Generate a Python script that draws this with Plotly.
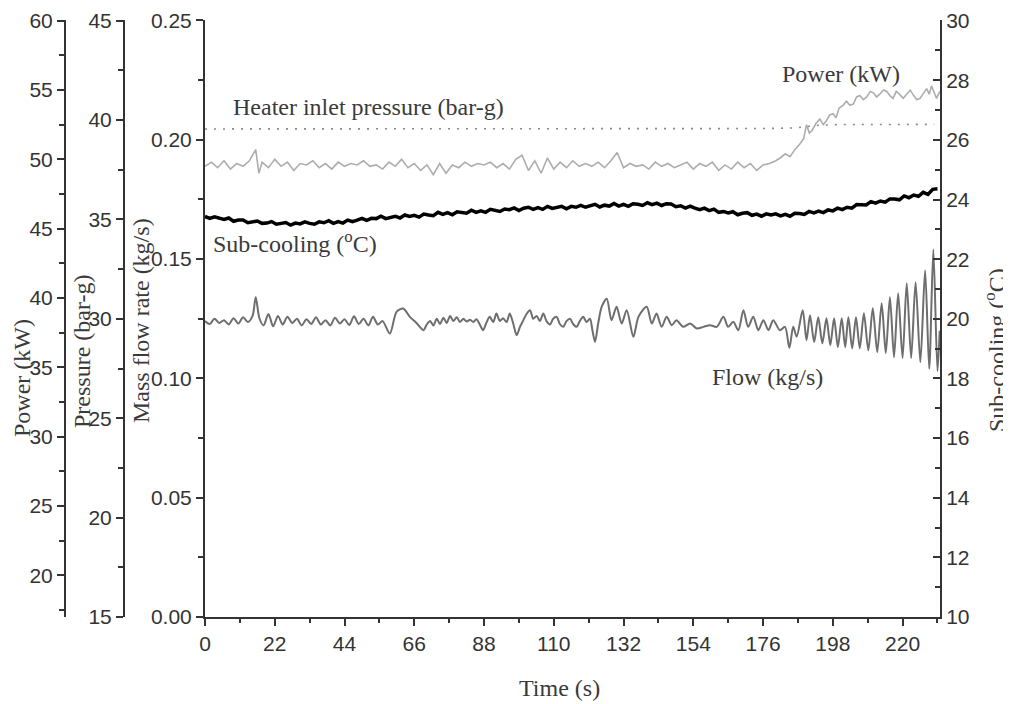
import plotly.graph_objects as go

# ---------------- data ----------------
flow_time = [0, 1.5, 3, 4.5, 6, 7.5, 9, 10.5, 12, 13.5, 15, 16, 17.2, 18.5, 20, 21.5, 23, 24.5,
             26, 27.5, 29, 30.5, 32, 33.5, 35, 36.5, 38, 39.5, 41, 42.5, 44, 45.5, 47, 48.5, 50,
             51.5, 53, 54.5, 56,
             58.3, 60.4, 62.5, 64.6, 66.7, 68.9, 69.9, 71.0, 72.0, 73.1, 74.1, 75.2, 76.2, 77.3,
             78.3, 79.4, 80.4, 81.5, 82.5, 83.6, 84.6, 85.6, 86.7, 87.7, 88.8, 89.8, 90.9, 91.9,
             93.0, 94.0, 95.1, 96.1, 97.2, 98.3, 99.3, 100.4, 101.4, 102.5, 103.5, 104.6, 105.6,
             106.7, 107.7, 108.8, 109.8, 110.9, 111.9, 113.0, 114.0, 115.1, 116.1, 117.2, 118.2,
             119.3, 120.3, 121.4, 122.2, 123.0, 124.0, 125.1,
             126.7, 128.2, 129.8, 131.4, 133.0, 135.1, 136.7, 139.3, 140.9, 142.4, 144.0, 145.6,
             147.2, 148.7, 150.8, 153.0, 155.1, 157.2, 159.3, 161.4, 163.5, 165.0, 166.6, 168.2,
             169.8, 171.3, 172.9, 174.5, 176.1, 177.7, 179.2, 181.3, 182.9, 184.3, 185.5, 186.6,
             188.5, 189.7, 190.8, 192.1, 193.4, 194.7, 196.0, 197.2, 198.4, 199.6, 200.8, 201.9,
             202.9, 204.1, 205.3, 206.5, 207.8, 209.2, 210.6, 212.0, 213.4, 214.7, 216.0, 217.3,
             218.6, 220.0, 221.3, 222.7, 224.1, 225.6, 227.1, 228.4, 229.7, 231.0, 231.7]
flow_value = [0.1240, 0.1228, 0.1250, 0.1232, 0.1244, 0.1226, 0.1252, 0.1230, 0.1256, 0.1236,
              0.1262, 0.1340, 0.1250, 0.1222, 0.1270, 0.1218, 0.1262, 0.1226, 0.1258, 0.1232,
              0.1250, 0.1222, 0.1248, 0.1228, 0.1256, 0.1226, 0.1244, 0.1222, 0.1254, 0.1230,
              0.1248, 0.1224, 0.1260, 0.1228, 0.1250, 0.1222, 0.1258, 0.1226, 0.1240,
              0.1188, 0.1279, 0.1293, 0.1258, 0.1232, 0.1202, 0.1225, 0.1240, 0.1222, 0.1250,
              0.1228, 0.1254, 0.1232, 0.1262, 0.1240, 0.1256, 0.1236, 0.1250, 0.1238, 0.1246,
              0.1236, 0.1248, 0.1225, 0.1202, 0.1235, 0.1258, 0.1236, 0.1272, 0.1240, 0.1252,
              0.1236, 0.1272, 0.1230, 0.1181, 0.1215, 0.1244, 0.1270, 0.1286, 0.1250, 0.1262,
              0.1240, 0.1272, 0.1240, 0.1226, 0.1250, 0.1258, 0.1228, 0.1216, 0.1240, 0.1250,
              0.1228, 0.1216, 0.1240, 0.1258, 0.1236, 0.1250, 0.1200, 0.1153, 0.1230, 0.1300,
              0.1334, 0.1244, 0.1300, 0.1230, 0.1286, 0.1174, 0.1258, 0.1300, 0.1230, 0.1272,
              0.1216, 0.1258, 0.1223, 0.1244, 0.1216, 0.1230, 0.1209, 0.1216, 0.1223, 0.1216,
              0.1258, 0.1216, 0.1237, 0.1202, 0.1286, 0.1216, 0.1258, 0.1202, 0.1244, 0.1202,
              0.1244, 0.1202, 0.1216, 0.1128, 0.1216, 0.1175,
              0.1286, 0.1160, 0.1265, 0.1152, 0.1256, 0.1147, 0.1252, 0.1139, 0.1252, 0.1131,
              0.1252, 0.1131, 0.1256, 0.1126, 0.1256, 0.1126, 0.1273, 0.1118, 0.1294, 0.1110,
              0.1315, 0.1106, 0.1340, 0.1089, 0.1357, 0.1085, 0.1399, 0.1085, 0.1403, 0.1068,
              0.1453, 0.1040, 0.1540, 0.1030, 0.1200]

power_time = [0, 2, 4, 6, 8, 10, 12, 14, 16, 17, 18, 20, 22, 24, 26, 28, 30, 32, 34, 36, 38, 40,
              42, 44, 46, 48, 50, 52, 54, 56, 58, 60, 62, 64, 66, 68, 70, 72, 74, 76, 78, 80, 82,
              84, 86, 88, 90, 92, 94, 96, 98, 100, 102, 104, 106, 108, 110, 112, 114, 116, 118,
              120, 122, 124, 126, 128, 130, 132, 134, 136, 138, 140, 142, 144, 146, 148, 150,
              152, 154, 156, 158, 160, 162, 164, 166, 168, 170, 172, 174, 176, 178, 180, 181.4,
              183, 184.5, 186, 187.6, 188.8, 189.7, 190.6, 191.5, 192.7, 193.9, 195, 196, 197,
              198.1, 199, 200, 201.2, 202.3, 203.4, 204.5, 205.5, 206.5, 207.6, 208.7, 209.8,
              210.8, 211.8, 212.8, 214, 215, 216, 217, 218, 219, 220.2, 221.3, 222.4, 223.5,
              224.5, 225.5, 226.6, 227.6, 228.4, 229.1, 230, 230.7, 231.7]
power_value = [49.5, 49.8, 49.4, 49.9, 49.3, 49.7, 49.5, 49.9, 50.7, 49.0, 49.8, 49.4, 50.0,
               49.5, 49.8, 49.2, 49.7, 49.6, 49.9, 49.4, 49.7, 49.3, 49.8, 49.5, 49.7, 49.6,
               49.9, 49.5, 49.6, 49.3, 49.8, 49.5, 50.0, 49.4, 49.7, 49.2, 49.6, 48.9, 49.7,
               49.0, 49.6, 49.4, 49.8, 49.5, 49.7, 49.6, 49.8, 49.4, 49.7, 49.3, 50.0, 50.3,
               49.2, 49.9, 49.0, 50.1, 49.3, 49.8, 49.4, 49.9, 49.5, 49.7, 49.5, 49.8, 49.4,
               49.9, 50.5, 49.4, 49.7, 49.5, 49.6, 49.3, 49.8, 49.5, 49.7, 49.4, 49.6, 49.8,
               49.3, 49.7, 49.5, 49.8, 49.2, 49.6, 49.3, 49.8, 49.4, 49.7, 49.2, 49.6, 49.7,
               49.9, 50.1, 50.4, 50.2, 50.7, 51.1, 51.5, 52.5, 51.9, 52.1, 52.6, 52.9, 52.5,
               52.8, 53.2, 53.3, 53.0, 53.7, 53.9, 54.2, 53.9, 54.0, 54.5, 54.6, 54.3, 54.5,
               54.9, 54.8, 54.5, 54.7, 55.0, 54.9, 54.6, 54.4, 54.9, 54.7, 54.4, 54.7, 55.0,
               54.6, 54.3, 54.4, 54.8, 55.1, 54.7, 55.3, 54.8, 54.4, 54.9]

sub_time = [0, 1.5, 3, 4.5, 6, 7.5, 9, 10.5, 12, 13.5, 15, 16.5, 18, 19.5, 21, 22.5, 24, 25.5,
            27, 28.5, 30, 31.5, 33, 34.5, 36, 37.5, 39, 40.5, 42, 43.5, 45, 46.5, 48, 49.5, 51,
            52.5, 54, 55.5, 57, 58.5, 60, 61.5, 63, 64.5, 66, 67.5, 69, 70.5, 72, 73.5, 75, 76.5,
            78, 79.5, 81, 82.5, 84, 85.5, 87, 88.5, 90, 91.5, 93, 94.5, 96, 97.5, 99, 100.5, 102,
            103.5, 105, 106.5, 108, 109.5, 111, 112.5, 114, 115.5, 117, 118.5, 120, 121.5, 123,
            124.5, 126, 127.5, 129, 130.5, 132, 133.5, 135, 136.5, 138, 139.5, 141, 142.5, 144,
            145.5, 147, 148.5, 150, 151.5, 153, 154.5, 156, 157.5, 159, 160.5, 162, 163.5, 165,
            166.5, 168, 169.5, 171, 172.5, 174, 175.5, 177, 178.5, 180, 181.5, 183, 184.5, 186,
            187.5, 189, 190.5, 192, 193.5, 195, 196.5, 198, 199.5, 201, 202.5, 204, 205.5, 207,
            208.5, 210, 211.5, 213, 214.5, 216, 217.5, 219, 220.5, 222, 223.5, 225, 226.5, 228,
            229.5, 231]
sub_value = [23.43, 23.37, 23.42, 23.36, 23.33, 23.38, 23.27, 23.31, 23.31, 23.22,
             23.26, 23.28, 23.20, 23.21, 23.26, 23.17, 23.20, 23.23, 23.14, 23.21,
             23.18, 23.25, 23.20, 23.17, 23.25, 23.22, 23.29, 23.20, 23.26, 23.21,
             23.31, 23.26, 23.31, 23.37, 23.30, 23.37, 23.36, 23.44, 23.36, 23.40,
             23.44, 23.38, 23.48, 23.43, 23.47, 23.41, 23.51, 23.48, 23.46, 23.57,
             23.50, 23.56, 23.49, 23.59, 23.57, 23.54, 23.64, 23.57, 23.62, 23.57,
             23.67, 23.62, 23.60, 23.68, 23.66, 23.72, 23.63, 23.71, 23.74, 23.67,
             23.73, 23.67, 23.77, 23.70, 23.74, 23.77, 23.69, 23.77, 23.74, 23.80,
             23.74, 23.80, 23.84, 23.75, 23.81, 23.78, 23.87, 23.78, 23.84, 23.77,
             23.86, 23.84, 23.80, 23.89, 23.83, 23.88, 23.80, 23.86, 23.85, 23.76,
             23.79, 23.71, 23.78, 23.71, 23.66, 23.71, 23.63, 23.68, 23.57, 23.60,
             23.55, 23.59, 23.49, 23.54, 23.56, 23.47, 23.51, 23.44, 23.52, 23.48,
             23.52, 23.45, 23.50, 23.44, 23.54, 23.53, 23.50, 23.60, 23.55, 23.61,
             23.56, 23.65, 23.62, 23.71, 23.66, 23.74, 23.71, 23.83, 23.83, 23.82,
             23.93, 23.88, 23.95, 23.91, 24.02, 24.02, 23.99, 24.12, 24.06, 24.15,
             24.11, 24.24, 24.17, 24.34, 24.36]

press_time = [0, 22, 44, 66, 88, 110, 132, 154, 176, 186, 190, 194, 200, 210, 220, 230]
press_value = [39.55, 39.55, 39.55, 39.55, 39.56, 39.56, 39.56, 39.56, 39.57, 39.60, 39.68,
               39.74, 39.77, 39.78, 39.78, 39.78]

x_ticks = [0, 22, 44, 66, 88, 110, 132, 154, 176, 198, 220]

# ---------------- figure ----------------
OFF = 8                      # page body margin of the browser
W, H = 1011 - OFF, 704 - OFF
L, R, T, B = 0, 71, 20 - OFF, 87
PW = W - L - R
PH = H - T - B
AX = 205  # picture pixel of main left axis


def px(x):
    return (x - OFF - L) / PW


def py(y):
    return (H - B - (y - OFF)) / PH


AXC = "#333333"
TICKF = dict(family="Liberation Sans, Arial, sans-serif", size=21, color="#333333")
SERIF = "Liberation Serif, Times New Roman, serif"
TXT = "#3a3a3a"

fig = go.Figure()
fig.add_trace(go.Scatter(x=press_time, y=press_value, yaxis="y2", mode="lines",
                         line=dict(color="#8a8a8a", width=1.6, dash="2px,7px"),
                         name="Heater inlet pressure"))
fig.add_trace(go.Scatter(x=power_time, y=power_value, yaxis="y3", mode="lines",
                         line=dict(color="#adadad", width=1.6), name="Power"))
fig.add_trace(go.Scatter(x=flow_time, y=flow_value, yaxis="y", mode="lines",
                         line=dict(color="#6e6e6e", width=2, shape="spline", smoothing=0.8),
                         name="Flow"))
fig.add_trace(go.Scatter(x=sub_time, y=sub_value, yaxis="y4", mode="lines",
                         line=dict(color="#000000", width=3.5), name="Sub-cooling"))

common = dict(showgrid=False, zeroline=False, showline=True, linecolor=AXC, linewidth=2,
              tickcolor=AXC, tickwidth=2, ticklen=7, tickfont=TICKF)

fig.update_layout(
    width=W, height=H, margin=dict(l=L, r=R, t=T, b=B, autoexpand=False),
    plot_bgcolor="white", paper_bgcolor="white", showlegend=False,
    xaxis=dict(domain=[px(AX), 1], range=[0, 231.8], tickmode="array", tickvals=x_ticks,
               ticks="outside",
               minor=dict(dtick=11, tick0=0, ticks="outside", ticklen=4, tickwidth=2,
                          tickcolor=AXC),
               **common),
    yaxis=dict(range=[0, 0.2502], dtick=0.05, tick0=0, tickformat=".2f", ticks="outside",
               anchor="x", side="left",
               minor=dict(dtick=0.025, tick0=0, ticks="outside", ticklen=5, tickwidth=2,
                          tickcolor=AXC),
               **common),
    yaxis2=dict(range=[15, 45.03], dtick=5, tick0=15, ticks="outside", overlaying="y",
                anchor="free", position=px(124), side="left",
                minor=dict(dtick=2.5, tick0=15, ticks="outside", ticklen=5, tickwidth=2,
                           tickcolor=AXC),
                **common),
    yaxis3=dict(range=[17.0, 60.05], dtick=5, tick0=20, ticks="outside", overlaying="y",
                anchor="free", position=px(65), side="left",
                minor=dict(dtick=2.5, tick0=20, ticks="outside", ticklen=5, tickwidth=2,
                           tickcolor=AXC),
                **common),
    yaxis4=dict(range=[10, 30.02], dtick=2, tick0=10, ticks="inside", overlaying="y",
                anchor="x", side="right",
                minor=dict(dtick=1, tick0=10, ticks="inside", ticklen=5, tickwidth=2,
                           tickcolor=AXC),
                **common),
)

ann = [
    # axis titles
    dict(text="Power (kW)", x=px(22), y=py(378), textangle=-90),
    dict(text="Pressure (bar-g)", x=px(82), y=py(352), textangle=-90),
    dict(text="Mass flow rate (kg/s)", x=px(141), y=py(321), textangle=-90),
    dict(text="Sub-cooling (<sup>o</sup>C)", x=px(995), y=py(350), textangle=-90),
    dict(text="Time (s)", x=px(559), y=py(688)),
    # series labels
    dict(text="Heater inlet pressure (bar-g)", x=px(231), y=py(107), xanchor="left"),
    dict(text="Power (kW)", x=px(780), y=py(74), xanchor="left"),
    dict(text="Sub-cooling (<sup>o</sup>C)", x=px(211), y=py(242), xanchor="left"),
    dict(text="Flow (kg/s)", x=px(710), y=py(377), xanchor="left"),
]
for a in ann:
    base = dict(xref="paper", yref="paper", showarrow=False, xanchor="center",
                yanchor="middle", font=dict(family=SERIF, size=24, color=TXT))
    base.update(a)
    fig.add_annotation(**base)

fig.write_html("out.html")
